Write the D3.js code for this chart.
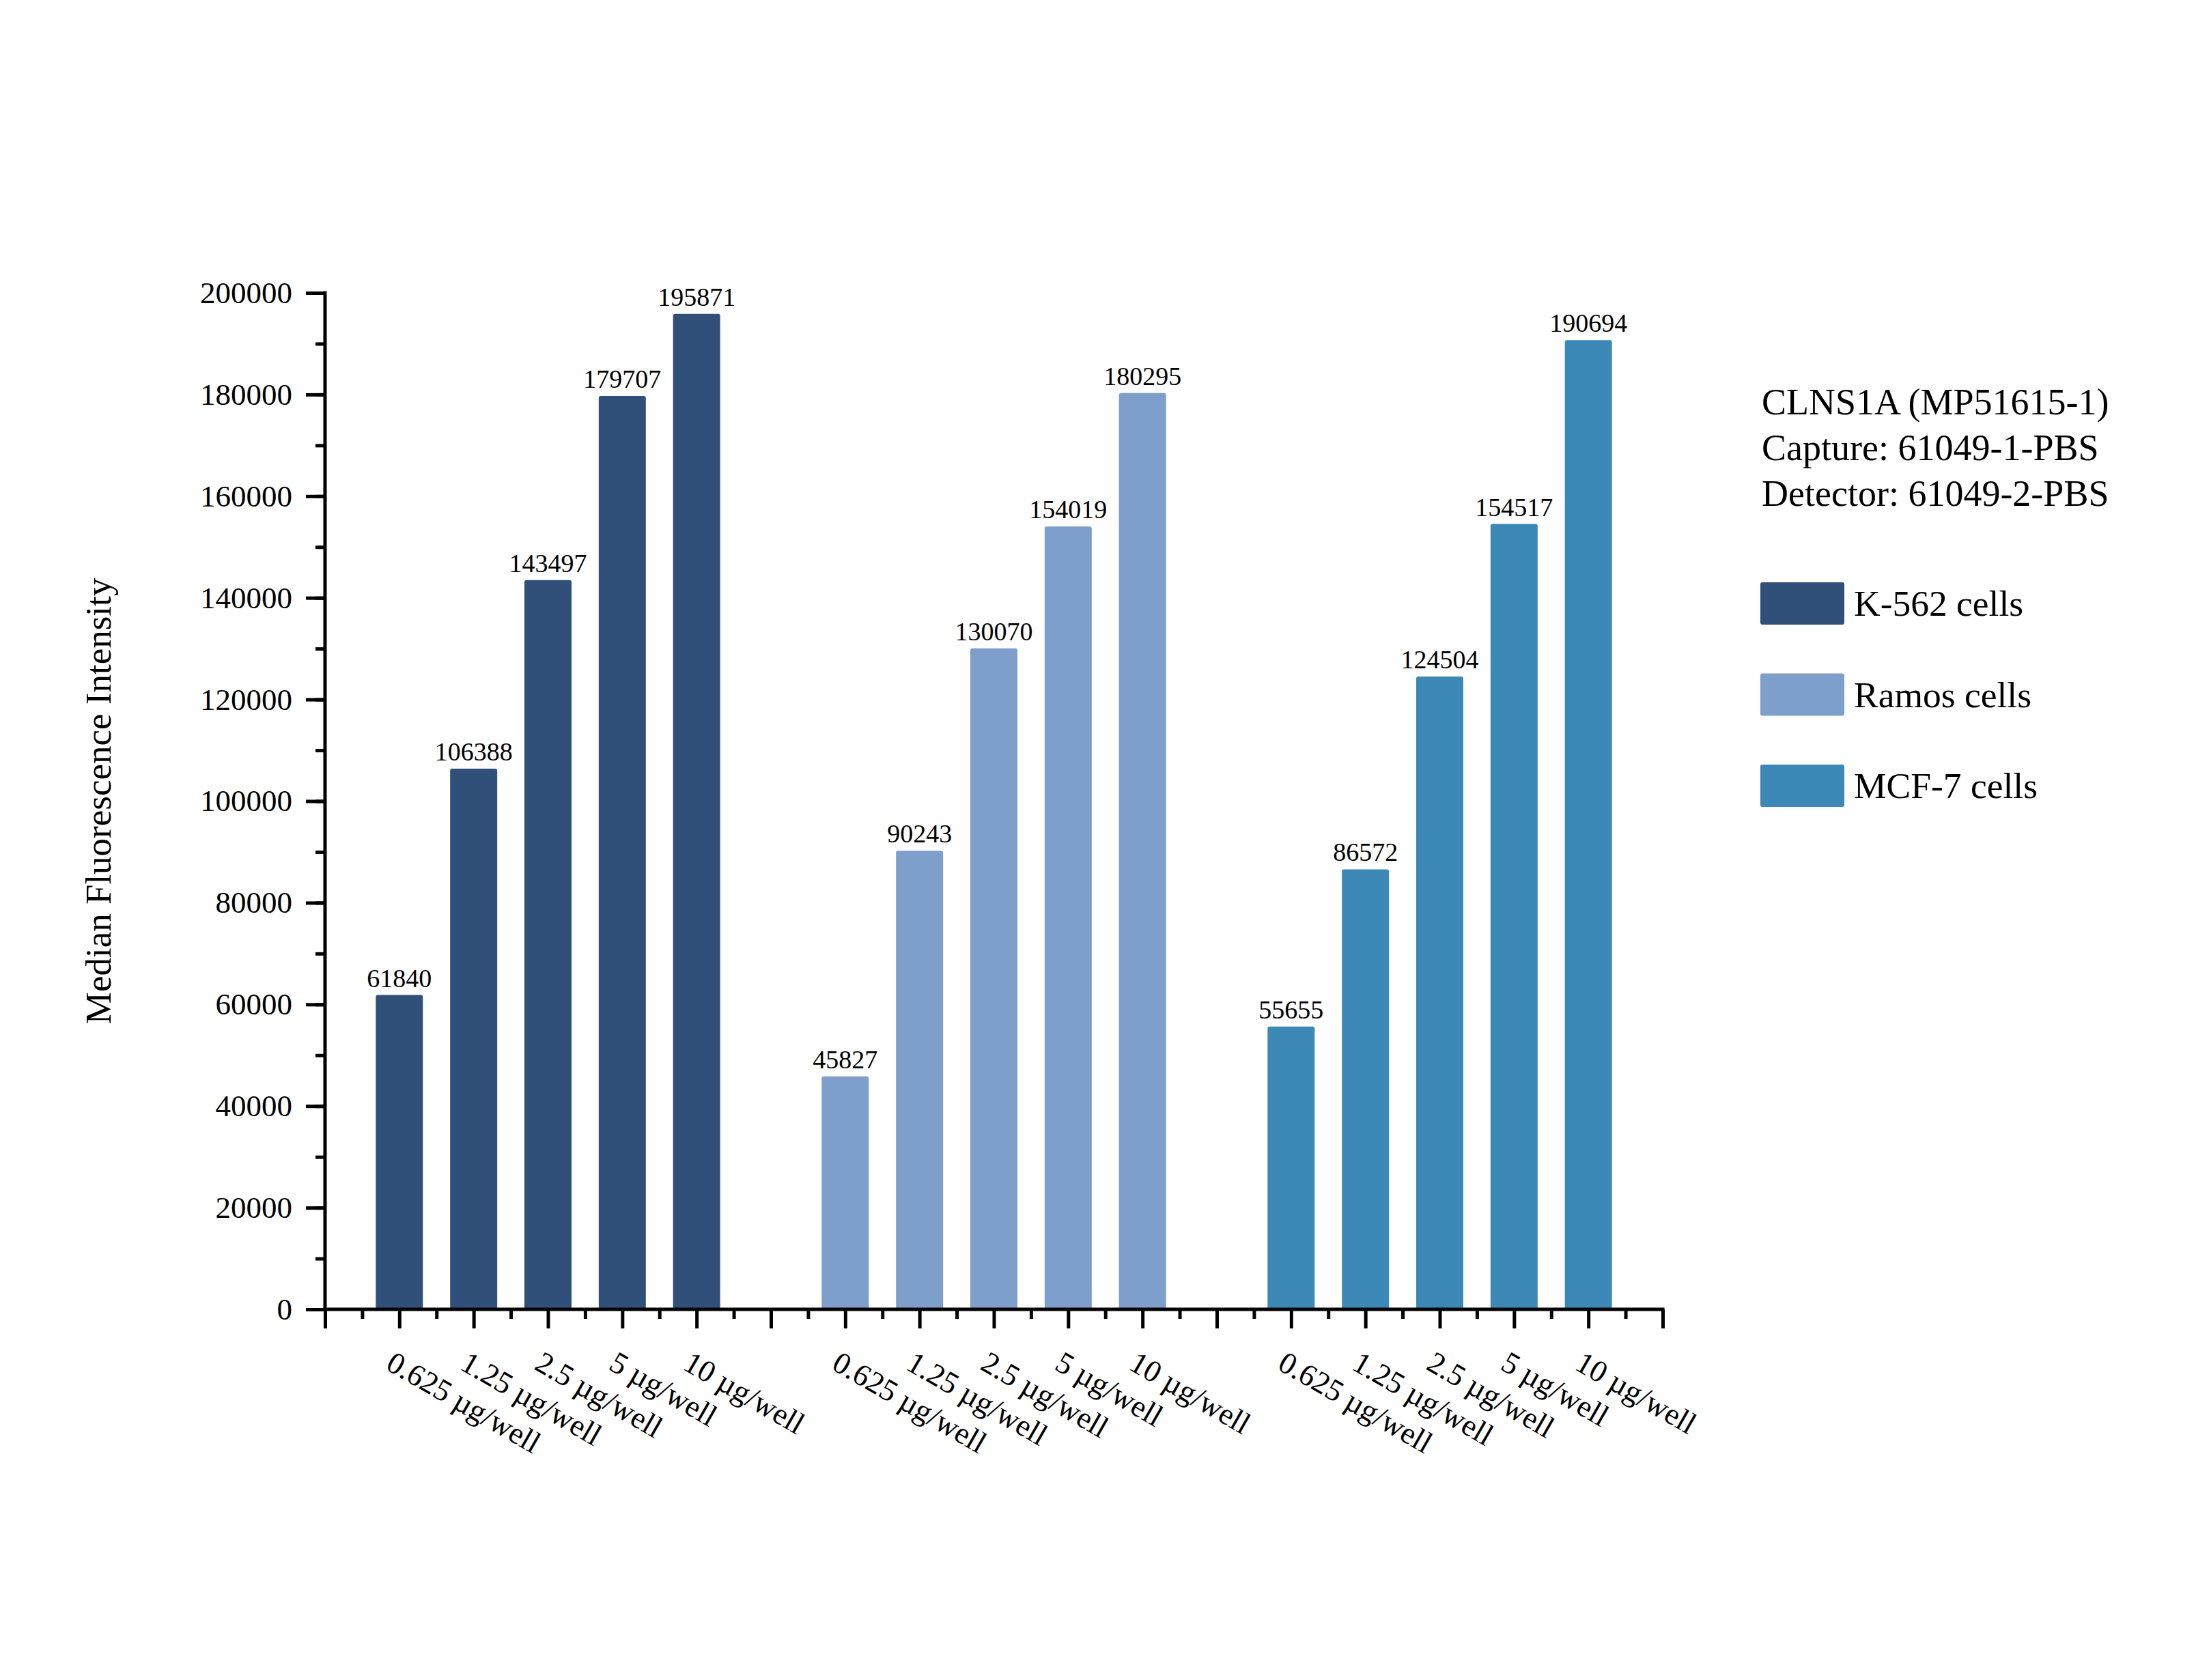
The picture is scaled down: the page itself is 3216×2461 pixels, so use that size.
<!DOCTYPE html>
<html>
<head>
<meta charset="utf-8">
<script src="https://cdn.jsdelivr.net/npm/d3@7"></script>
<style>
  body { margin: 0; background: #fff; }
  svg { display: block; font-family: "Liberation Serif", "Times New Roman", serif; }
</style>
</head>
<body>
<svg id="chart" width="3216" height="2461"></svg>
<script>
// data
const groups = ["K-562 cells", "Ramos cells", "MCF-7 cells"];
const doses = ["0.625 µg/well", "1.25 µg/well", "2.5 µg/well", "5 µg/well", "10 µg/well"];
const k562 = [61840, 106388, 143497, 179707, 195871];
const ramos = [45827, 90243, 130070, 154019, 180295];
const mcf7 = [55655, 86572, 124504, 154517, 190694];
const colors = ["#30507a", "#7e9ecb", "#3c89b8"];
const titleLines = ["CLNS1A (MP51615-1)", "Capture: 61049-1-PBS", "Detector: 61049-2-PBS"];

const series = [k562, ramos, mcf7];

const svg = d3.select("#chart");
const plotL = 476, plotR = 2435, plotT = 429, plotB = 1918;

// slots 0..18, bars on 1..5, 7..11, 13..17
const x = d3.scaleLinear().domain([0, 18]).range([plotL, plotR]);
const y = d3.scaleLinear().domain([0, 200000]).range([plotB, plotT]);

const bars = [];
series.forEach((vals, g) => {
  vals.forEach((v, i) => {
    bars.push({ g, i, v, slot: 1 + g * 6 + i, label: doses[i] });
  });
});

const barW = 69;

// bars
svg.append("g").selectAll("rect")
  .data(bars)
  .enter()
  .append("rect")
  .attr("x", d => x(d.slot) - barW / 2)
  .attr("y", d => y(d.v))
  .attr("width", barW)
  .attr("height", d => y(0) - y(d.v))
  .attr("rx", 3)
  .attr("fill", d => colors[d.g]);

// value labels
svg.append("g").selectAll("text")
  .data(bars)
  .enter()
  .append("text")
  .attr("x", d => x(d.slot))
  .attr("y", d => y(d.v) - 12)
  .attr("text-anchor", "middle")
  .attr("font-size", 38)
  .text(d => d.v);

// y axis, major + minor ticks
const yMinor = svg.append("g").attr("transform", `translate(${plotL},0)`)
  .call(d3.axisLeft(y).tickValues(d3.range(0, 200001, 10000)).tickSize(14).tickSizeOuter(0).tickFormat(""));
yMinor.select(".domain").remove();

const yAxis = svg.append("g").attr("transform", `translate(${plotL},0)`)
  .call(d3.axisLeft(y).tickValues(d3.range(0, 200001, 20000)).tickSize(28).tickSizeOuter(0)
    .tickPadding(20).tickFormat(d3.format("d")));
yAxis.selectAll("text").attr("font-size", 45).attr("font-family", "Liberation Serif, serif").attr("fill", "#000");

// x axis, major + minor ticks
const xMinor = svg.append("g").attr("transform", `translate(0,${plotB})`)
  .call(d3.axisBottom(x).tickValues(d3.range(0.5, 18, 1)).tickSize(14).tickSizeOuter(0).tickFormat(""));
xMinor.select(".domain").remove();

const xAxis = svg.append("g").attr("transform", `translate(0,${plotB})`)
  .call(d3.axisBottom(x).tickValues(d3.range(0, 19, 1)).tickSize(28).tickSizeOuter(0).tickFormat(""));

svg.selectAll(".tick line").attr("stroke", "#000").attr("stroke-width", 5);
svg.selectAll(".domain").attr("stroke", "#000").attr("stroke-width", 5);
// let the axis line run through the corner
yAxis.select(".domain").attr("d", `M0,${plotT - 2.5}V${plotB + 2.5}`);
xAxis.select(".domain").attr("d", `M${plotL - 2.5},0H${plotR + 2.5}`);

// rotated dose labels
svg.append("g").selectAll("text")
  .data(bars)
  .enter()
  .append("text")
  .attr("transform", d => `translate(${x(d.slot) - 14},1991) rotate(30)`)
  .attr("dy", "0.35em")
  .attr("font-size", 45)
  .text(d => d.label);

// y title
svg.append("text")
  .attr("transform", `translate(162,${(plotT + plotB) / 2}) rotate(-90)`)
  .attr("text-anchor", "middle")
  .attr("font-size", 53)
  .text("Median Fluorescence Intensity");

// legend title lines
svg.append("g").selectAll("text")
  .data(titleLines)
  .enter()
  .append("text")
  .attr("x", 2580)
  .attr("y", (d, i) => 607 + i * 67)
  .attr("font-size", 54)
  .text(d => d);

// legend items
const leg = svg.append("g").selectAll("g")
  .data(groups)
  .enter()
  .append("g")
  .attr("transform", (d, i) => `translate(2578,${884 + i * 133.5})`);

leg.append("rect")
  .attr("x", 0)
  .attr("y", -31)
  .attr("width", 123)
  .attr("height", 62)
  .attr("rx", 3)
  .attr("fill", (d, i) => colors[i]);

leg.append("text")
  .attr("x", 137)
  .attr("y", 18)
  .attr("font-size", 53.5)
  .text(d => d);
</script>
</body>
</html>
